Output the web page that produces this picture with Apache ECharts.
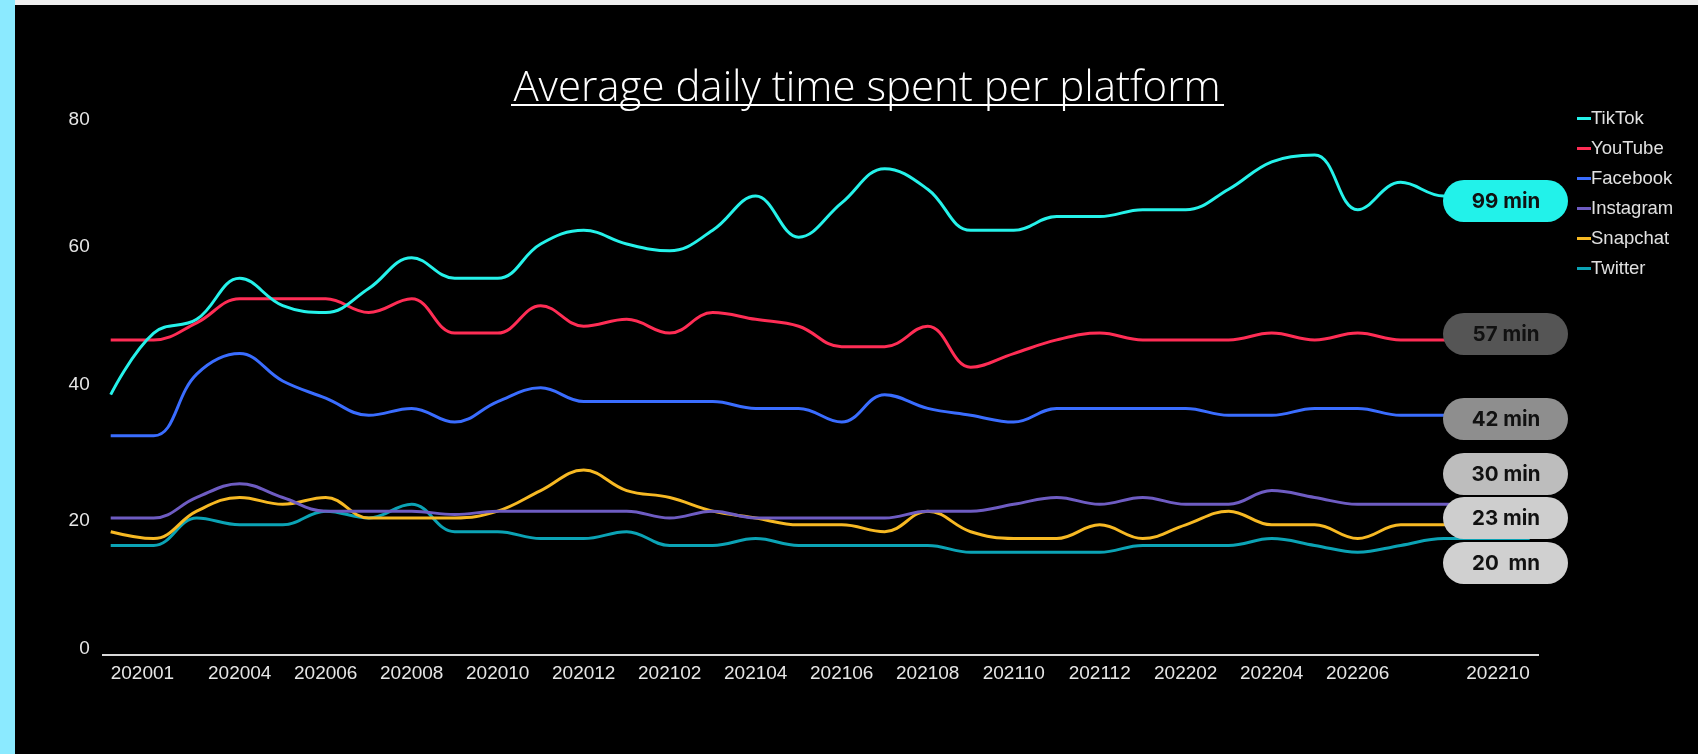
<!DOCTYPE html>
<html>
<head>
<meta charset="utf-8">
<style>
  html, body { margin: 0; padding: 0; background: #000; }
  #chart { width: 1698px; height: 754px; }
</style>
<script src="https://cdn.jsdelivr.net/npm/echarts@6/dist/echarts.min.js"></script>
</head>
<body>
<div id="chart"></div>
<script>
// ---- Data ----
const months = ['202001','202002','202003','202004','202005','202006','202007','202008','202009','202010','202011','202012',
                '202101','202102','202103','202104','202105','202106','202107','202108','202109','202110','202111','202112',
                '202201','202202','202203','202204','202205','202206','202207','202208','202209','202210'];
const shownTicks = ['202001','202004','202006','202008','202010','202012','202102','202104','202106','202108',
                    '202110','202112','202202','202204','202206','202210'];
const yTicks = [0, 20, 40, 60, 80];

const platforms = ['TikTok','YouTube','Facebook','Instagram','Snapchat','Twitter'];
const tiktok    = [38,47,49,55,51,50,53.5,58,55,55,60,62,60,59,62,67,61,66,71,68,62,62,64,64,65,65,68,72,73,65,69,67,67,67];
const youtube   = [46,46,48.5,52,52,52,50,52,47,47,51,48,49,47,50,49,48,45,45,48,42,44,46,47,46,46,46,47,46,47,46,46,46,46];
const facebook  = [32,32,41,44,40,37.5,35,36,34,37,39,37,37,37,37,36,36,34,38,36,35,34,36,36,36,36,35,35,36,36,35,35,35,35];
const instagram = [20,20,23,25,23,21,21,21,20.5,21,21,21,21,20,21,20,20,20,20,21,21,22,23,22,23,22,22,24,23,22,22,22,22,22];
const snapchat  = [18,17,21,23,22,23,20,20,20,21,24,27,24,23,21,20,19,19,18,21,18,17,17,19,17,19,21,19,19,17,19,19,19,19];
const twitter   = [16,16,20,19,19,21,20,22,18,18,17,17,18,16,16,17,16,16,16,16,15,15,15,15,16,16,16,17,16,15,16,17,17,17];

const pillLabels = ['99 min','57 min','42 min','30 min','23 min','20  mn'];

const titleText = 'Average daily time spent per platform';

// ---- Styles ----
const seriesColors = ['#25F2EA','#FF2D55','#3A6DFF','#6E5CC2','#F7B923','#0BA3B5'];
const pillColors = ['#22F2EA','#555555','#8E8E8E','#BDBDBD','#CECECE','#D0D0D0'];
const pillTops = [180, 313, 398, 453, 497, 542];

const seriesData = [tiktok, youtube, facebook, instagram, snapchat, twitter];

const chart = echarts.init(document.getElementById('chart'), null, { renderer: 'canvas' });

const axisFont = { fontFamily: 'Liberation Sans, Arial, sans-serif', fontSize: 19, color: '#E6E6E6' };

// vertical nudges of y labels (style only): positive = down
const yLabelShift = { 0: -6, 20: 2.5, 40: 4, 60: 2.5, 80: 12.5 };
const yRich = {};
Object.keys(yLabelShift).forEach(k => {
  const s = yLabelShift[k];
  yRich['v' + k] = Object.assign({}, axisFont, {
    padding: s >= 0 ? [2 * s, 0, 0, 0] : [0, 0, -2 * s, 0]
  });
});

const graphics = [
  { type: 'rect', left: 0, top: 0, shape: { width: 15, height: 754 }, style: { fill: '#8BEAFF' }, z: 100 },
  { type: 'rect', left: 15, top: 0, shape: { width: 1683, height: 5 }, style: { fill: '#EFEFEF' }, z: 100 },
  { type: 'rect', left: 102, top: 654, shape: { width: 1437, height: 2 }, style: { fill: '#D9D9D9' }, z: 100 },
  { type: 'text', x: 867, y: 89, z: 100,
    style: { text: titleText, fill: '#FFFFFF', font: '300 42px "Open Sans", Lato, sans-serif',
             textAlign: 'center', textVerticalAlign: 'middle' } },
  { type: 'rect', left: 511, top: 104, shape: { width: 713, height: 2 }, style: { fill: '#FFFFFF' }, z: 100 }
];
pillLabels.forEach((lab, i) => {
  graphics.push({ type: 'rect', left: 1443, top: pillTops[i], z: 200,
    shape: { width: 125, height: 42, r: 21 }, style: { fill: pillColors[i] } });
  graphics.push({ type: 'text', x: 1506, y: pillTops[i] + 22, z: 201,
    style: { text: lab, fill: '#111111', font: '700 20.5px Inter, "Noto Sans", sans-serif',
             textAlign: 'center', textVerticalAlign: 'middle' } });
});

const option = {
  backgroundColor: '#000000',
  animation: false,
  legend: {
    data: platforms,
    orient: 'vertical',
    left: 1577,
    top: 109,
    padding: 0,
    icon: 'rect',
    itemWidth: 14,
    itemHeight: 3,
    itemGap: 11,
    textStyle: { color: '#E0E0E0', fontFamily: 'Liberation Sans, Arial, sans-serif', fontSize: 18.5, lineHeight: 18, padding: [0,0,0,-5] }
  },
  grid: { left: 110.7, right: 168.3, top: 107, bottom: 99, containLabel: false },
  xAxis: {
    type: 'category',
    data: months,
    boundaryGap: false,
    axisLine: { show: false },
    axisTick: { show: false },
    splitLine: { show: false },
    axisLabel: Object.assign({
      margin: 9,
      interval: (idx, val) => shownTicks.indexOf(val) >= 0,
      alignMinLabel: 'left',
      alignMaxLabel: 'right'
    }, axisFont)
  },
  yAxis: {
    type: 'value',
    min: yTicks[0],
    max: yTicks[yTicks.length - 1],
    interval: yTicks[1] - yTicks[0],
    axisLine: { show: false },
    axisTick: { show: false },
    splitLine: { show: false },
    axisLabel: Object.assign({
      margin: 21,
      formatter: v => (yRich['v' + v] ? '{v' + v + '|' + v + '}' : String(v)),
      rich: yRich
    }, axisFont)
  },
  series: platforms.map((name, i) => ({
    name: name,
    type: 'line',
    data: seriesData[i],
    smooth: 0.4,
    symbol: 'none',
    lineStyle: { width: 3, color: seriesColors[i] },
    itemStyle: { color: seriesColors[i] },
    z: 10 - i
  })),
  graphic: graphics
};

chart.setOption(option);
</script>
</body>
</html>
